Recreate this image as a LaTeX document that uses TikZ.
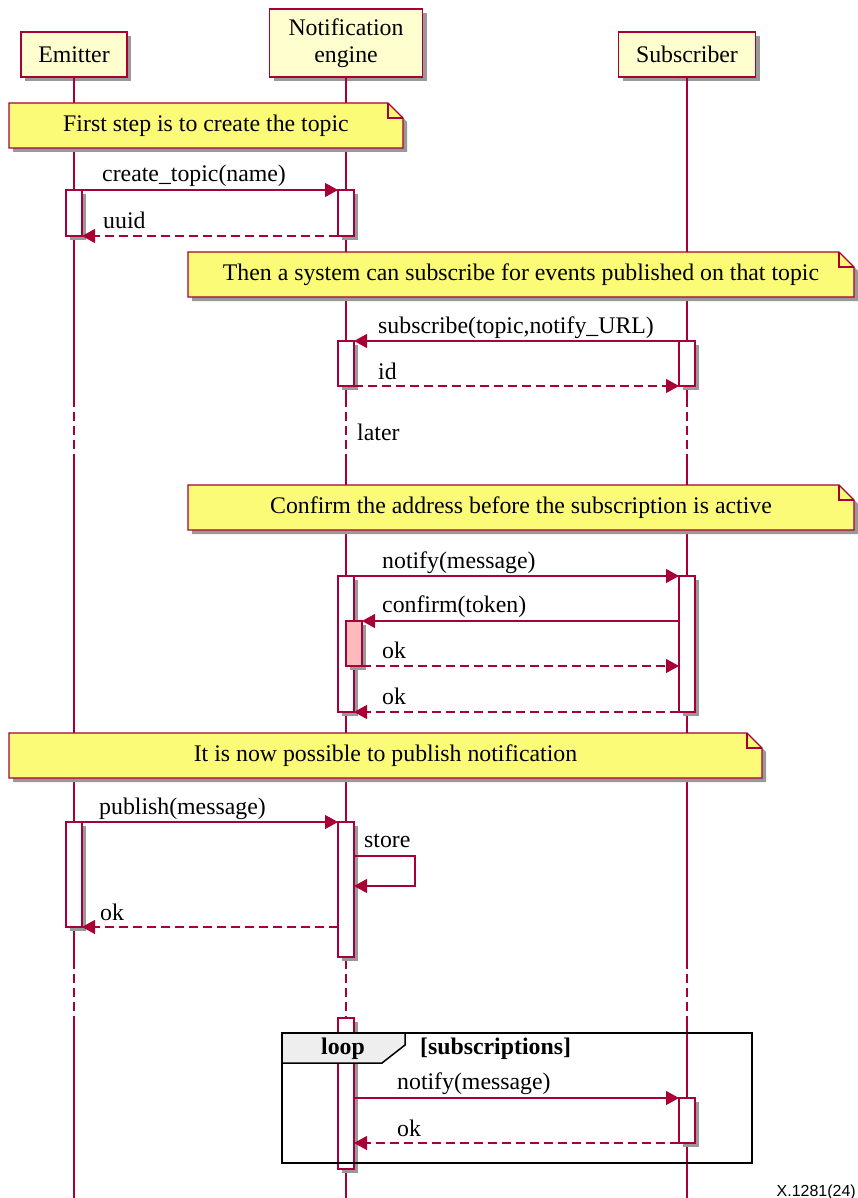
\documentclass[tikz,border=0pt]{standalone}
\usepackage{fontspec}
\setmainfont{Liberation Serif}
\newfontfamily\figsans{Liberation Sans}
\usetikzlibrary{arrows.meta,shadows,calc}
\definecolor{umlred}{HTML}{A80036}
\definecolor{partfill}{HTML}{FEFECE}
\definecolor{notefill}{HTML}{FBFB77}
\definecolor{nestfill}{HTML}{FFBBBB}
\definecolor{framehead}{HTML}{EEEEEE}

% note with a folded corner: name, x1, y1, x2, y2, text
\newcommand\drawnote[6]{%
  \path[notebox] (#2,#3) -- (#4-15,#3) -- (#4,#3+15) -- (#4,#5) -- (#2,#5) -- cycle;
  \draw[umlred,line width=1.2pt] (#4-15,#3) -- (#4-15,#3+15) -- (#4,#3+15);
  \node[notetext] (#1) at ({(#2+#4)/2},{(#3+#5)/2}) {#6};
}

\begin{document}
\begin{tikzpicture}[x=1pt,y=-1pt,
  font=\fontsize{23.8}{26.5}\selectfont,
  castshadow/.style={drop shadow={shadow xshift=4pt,shadow yshift=-4pt,fill=black!40,opacity=1}},
  participant/.style={draw=umlred,fill=partfill,line width=1.4pt,inner sep=0pt,outer sep=0pt,align=center,castshadow},
  act/.style={draw=umlred,fill=white,line width=1.2pt,minimum width=16pt,inner sep=0pt,outer sep=0pt,castshadow},
  life/.style={umlred,line width=1.2pt},
  lifedash/.style={life,dash pattern=on 9pt off 5pt},
  msg/.style={umlred,line width=1.2pt,-{Triangle[length=13pt,width=14pt]}},
  reply/.style={msg,dash pattern=on 9pt off 5pt},
  lbl/.style={anchor=base west,inner sep=0pt},
  notebox/.style={draw=umlred,fill=notefill,line width=1.2pt,castshadow},
  notetext/.style={inner sep=0pt,outer sep=0pt},
  boldtext/.style={inner sep=0pt,font=\fontsize{23.8}{26.5}\selectfont\bfseries},
]
\useasboundingbox (0,0) rectangle (858,1198);

% participants
\node[participant,minimum width=106pt,minimum height=45pt] (pE) at (74,54.5) {Emitter};
\node[participant,minimum width=153pt,minimum height=68pt] (pN) at (346,43) {Notification\\engine};
\node[participant,minimum width=137pt,minimum height=45pt] (pS) at (687,54.5) {Subscriber};

% lifelines, dashed where time passes
\foreach \p/\x in {E/74,N/346,S/687} {
  \draw[life] (p\p.south) -- (\x,398);
  \draw[lifedash] (\x,398) -- (\x,462);
  \draw[life] (\x,462) -- (\x,960);
  \draw[lifedash] (\x,960) -- (\x,1020);
  \draw[life] (\x,1020) -- (\x,1198);
}

% notes
\drawnote{note1}{9}{103}{403}{148}{First step is to create the topic}
\drawnote{note2}{188}{252}{854}{297}{Then a system can subscribe for events published on that topic}
\drawnote{note3}{188}{485}{854}{530}{Confirm the address before the subscription is active}
\drawnote{note4}{9}{733}{762}{778}{It is now possible to publish notification}

% activation bars
\node[act,minimum height=46pt] (eA1) at (74,213) {};
\node[act,minimum height=46pt] (nA1) at (346,213) {};
\node[act,minimum height=45pt] (nA2) at (346,363.5) {};
\node[act,minimum height=45pt] (sA2) at (687,363.5) {};
\node[act,minimum height=136pt] (nA3) at (346,644) {};
\node[act,minimum height=136pt] (sA3) at (687,644) {};
\node[act,fill=nestfill,minimum height=45pt] (nA3b) at (354,643.5) {};
\node[act,minimum height=105pt] (eA4) at (74,874.5) {};
\node[act,minimum height=135pt] (nA4) at (346,889.5) {};
\node[act,minimum height=151pt] (nA5) at (346,1093.5) {};
\node[act,minimum height=45pt] (sA5) at (687,1120.5) {};

% topic creation
\draw[msg] (eA1.north east) -- (nA1.north west);
\node[lbl] (l1) at (102,182) {create\_topic(name)};
\draw[reply] (nA1.south west) -- (eA1.south east);
\node[lbl] (l2) at (103,229) {uuid};

% subscription
\draw[msg] (sA2.north west) -- (nA2.north east);
\node[lbl] (l3) at (378,333) {subscribe(topic,notify\_URL)};
\draw[reply] (nA2.south east) -- (sA2.south west);
\node[lbl] (l4) at (378,379) {id};

\node[lbl] (later) at (357,440) {later};

% confirmation
\draw[msg] (nA3.north east) -- (sA3.north west);
\node[lbl] (l5) at (382,568) {notify(message)};
\draw[msg] (sA3.west |- nA3b.north) -- (nA3b.north east);
\node[lbl] (l6) at (382,612) {confirm(token)};
\draw[reply] (nA3b.south east) -- (sA3.west |- nA3b.south);
\node[lbl] (l7) at (382,658) {ok};
\draw[reply] (sA3.south west) -- (nA3.south east);
\node[lbl] (l8) at (382,704) {ok};

% publishing
\draw[msg] (eA4.north east) -- (nA4.north west);
\node[lbl] (l9) at (99,814) {publish(message)};
\coordinate (st1) at (415,856);
\coordinate (st2) at (415,886);
\draw[msg] (nA4.east |- st1) -| (st2) -- (nA4.east |- st2);
\node[lbl] (l10) at (364,847) {store};
\draw[reply] (nA4.west |- eA4.south) -- (eA4.south east);
\node[lbl] (l11) at (100,920) {ok};

% loop frame
\node[draw=black,line width=2pt,inner sep=0pt,outer sep=0pt,minimum width=470pt,minimum height=130pt] (loopframe) at (517,1098) {};
\path[draw=black,line width=1.5pt,fill=framehead] (loopframe.north west) -- ++(123,0) -- ++(0,12) -- ++(-23,18) -- (282,1063) -- cycle;
\node[boldtext] (looplbl) at (343,1049) {loop};
\node[boldtext,anchor=west] (loopcond) at (420,1049) {[subscriptions]};

\draw[msg] (nA5.east |- sA5.north) -- (sA5.north west);
\node[lbl] (l12) at (397,1089) {notify(message)};
\draw[reply] (sA5.south west) -- (nA5.east |- sA5.south);
\node[lbl] (l13) at (397,1136) {ok};

\node[anchor=base east,inner sep=0pt,font=\figsans\fontsize{16}{18}\selectfont] (figid) at (856,1196) {X.1281(24)};
\end{tikzpicture}
\end{document}
